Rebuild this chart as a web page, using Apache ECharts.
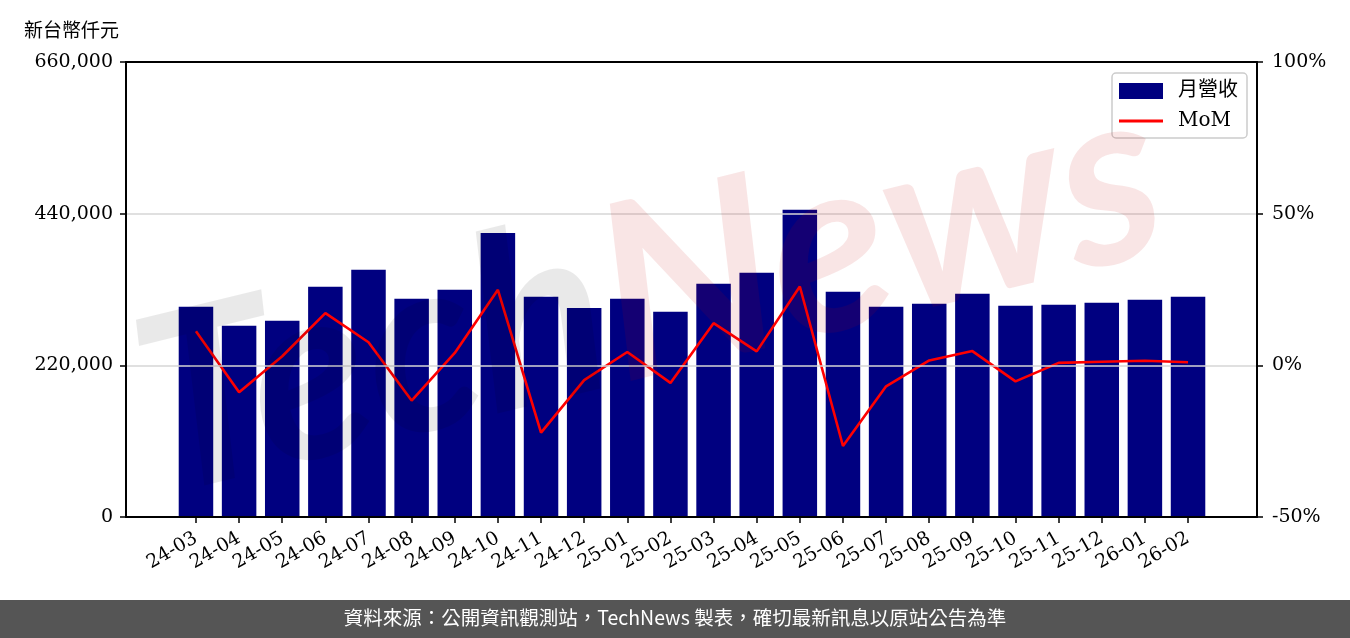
<!DOCTYPE html>
<html><head><meta charset="utf-8">
<script src="https://cdn.jsdelivr.net/npm/echarts@6/dist/echarts.min.js"></script>
<style>html,body{margin:0;padding:0;background:#fff}#c{width:1350px;height:638px}</style>
</head><body><div id="c"></div>
<script>
const categories = ['24-03','24-04','24-05','24-06','24-07','24-08','24-09','24-10','24-11','24-12','25-01','25-02','25-03','25-04','25-05','25-06','25-07','25-08','25-09','25-10','25-11','25-12','26-01','26-02'];
const revenue = [304960,277450,284700,333900,358500,316500,329600,412000,319400,303000,316500,297600,338300,354200,445600,326700,305000,309300,323800,306400,307800,310700,315000,319400];
const mom = [11.2,-8.9,3.0,17.2,7.6,-11.6,4.1,24.9,-22.2,-4.9,4.4,-5.8,13.9,4.6,26.0,-26.6,-6.9,1.6,4.7,-5.3,0.8,1.2,1.5,1.0];
const leftTicks = [0,220000,440000,660000];
const rightTicks = [-50,0,50,100];

const SERIF = "'DejaVu Serif','Noto Sans CJK TC',serif";
const chart = echarts.init(document.getElementById('c'));
const fmtNum = v => v.toLocaleString('en-US');
const frameLine = {show:true,onZero:false,lineStyle:{color:'#000',width:2}};
chart.setOption({
  animation:false,
  backgroundColor:'#fff',
  title:{text:'新台幣仟元',left:19,top:15,textStyle:{fontFamily:"'Noto Sans CJK TC'",fontSize:19,fontWeight:'normal',color:'#000'}},
  legend:{
    right:103,top:73,orient:'vertical',itemWidth:44,itemHeight:16,itemGap:10,
    padding:[8,9,7,7],backgroundColor:'rgba(255,255,255,0.8)',borderColor:'#cccccc',borderWidth:1.5,borderRadius:4,
    textStyle:{fontFamily:SERIF,fontSize:20,color:'#000',padding:[0,0,0,10]},
    data:[{name:'月營收',icon:'rect'},{name:'MoM',icon:'path://M0,0L44,0L44,3L0,3Z'}]
  },
  grid:[
    {left:126,right:93,top:62,bottom:121},
    {left:174.4,right:140.4,top:62,bottom:121}
  ],
  xAxis:[
    {gridIndex:0,type:'value',min:0,max:1,position:'bottom',z:10,axisLine:frameLine,axisTick:{show:false},axisLabel:{show:false},splitLine:{show:false}},
    {gridIndex:1,type:'category',data:categories,boundaryGap:true,
     axisLine:{show:false,onZero:false},
     axisTick:{show:true,alignWithLabel:true,length:6,lineStyle:{color:'#000',width:1.5}},
     axisLabel:{rotate:30,interval:0,margin:20,fontFamily:SERIF,fontSize:19,color:'#000'}},
    {gridIndex:0,type:'value',min:0,max:1,position:'top',z:10,axisLine:frameLine,axisTick:{show:false},axisLabel:{show:false},splitLine:{show:false}}
  ],
  yAxis:[
    {gridIndex:0,type:'value',position:'left',min:leftTicks[0],max:leftTicks[leftTicks.length-1],interval:220000,z:10,
     axisLine:frameLine,axisTick:{show:true,length:6,lineStyle:{color:'#000',width:1.5}},
     axisLabel:{formatter:fmtNum,fontFamily:SERIF,fontSize:19,color:'#000',margin:13},
     splitLine:{show:true,lineStyle:{color:'#d6d6d6',width:1.5}}},
    {gridIndex:0,type:'value',position:'right',min:rightTicks[0],max:rightTicks[rightTicks.length-1],interval:50,z:10,
     axisLine:frameLine,axisTick:{show:true,length:6,lineStyle:{color:'#000',width:1.5}},
     axisLabel:{formatter:v=>v+'%',fontFamily:SERIF,fontSize:19,color:'#000',margin:15},
     splitLine:{show:false}},
    {gridIndex:1,type:'value',min:0,max:660000,show:false,splitLine:{show:false}},
    {gridIndex:1,type:'value',min:-50,max:100,show:false,splitLine:{show:false}}
  ],
  graphic:[
    {type:'text',z:100,position:[650,295],rotation:0.24,
     style:{text:'{a|Tech}{b|News}',align:'center',verticalAlign:'middle',
       rich:{a:{fontFamily:'Lato',fontWeight:'bold',fontStyle:'italic',fontSize:245,fill:'rgba(0,0,0,0.085)'},
             b:{fontFamily:'Lato',fontWeight:'bold',fontStyle:'italic',fontSize:245,fill:'rgba(194,0,0,0.1)'}}}},
    {type:'rect',left:0,top:600,shape:{width:1350,height:38},style:{fill:'#555555'},z:50},
    {type:'text',left:'center',top:608,z:51,style:{text:'資料來源：公開資訊觀測站，TechNews 製表，確切最新訊息以原站公告為準',fill:'#fff',font:"19.5px 'Noto Sans CJK TC'"}}
  ],
  series:[
    {name:'月營收',type:'bar',xAxisIndex:1,yAxisIndex:2,data:revenue,barWidth:'80%',itemStyle:{color:'#000080'}},
    {name:'MoM',type:'line',xAxisIndex:1,yAxisIndex:3,data:mom,symbol:'none',lineStyle:{color:'#ff0000',width:2.6},itemStyle:{color:'#ff0000'}}
  ]
});
</script></body></html>
